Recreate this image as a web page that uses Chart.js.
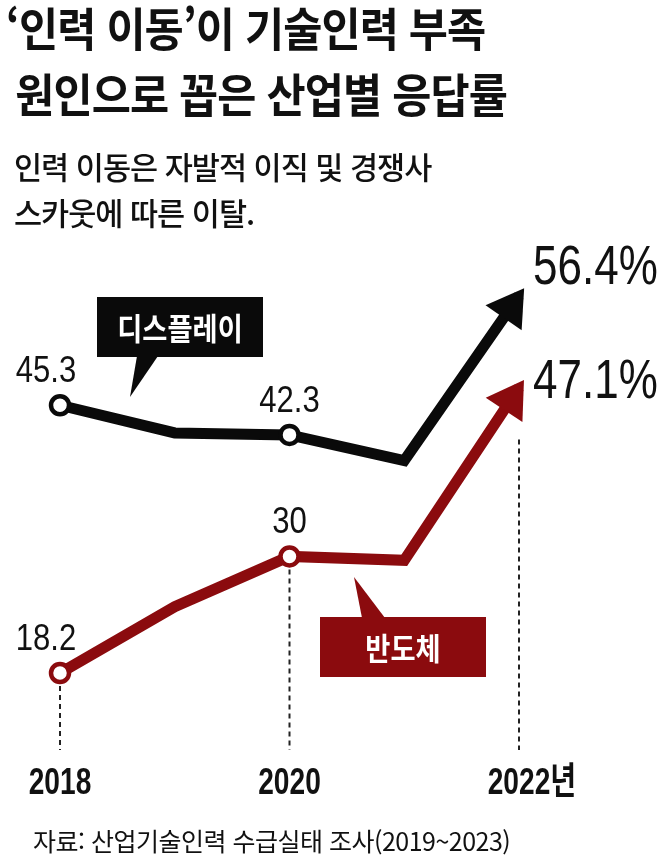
<!DOCTYPE html>
<html lang="ko">
<head>
<meta charset="utf-8">
<script src="https://cdn.jsdelivr.net/npm/chart.js@4.4.0/dist/chart.umd.min.js"></script>
<style>
  html, body { margin: 0; padding: 0; background: #fff; }
  body { width: 658px; height: 861px; position: relative; overflow: hidden; }
  #chart { position: absolute; left: 0; top: 0; }
  .txt { position: absolute; white-space: nowrap; font-family: "Noto Sans CJK KR", sans-serif; color: #111; transform-origin: left top; }
  #title { left: 6px; top: -7px; font-size: 46px; line-height: 66px; font-weight: 700; transform: scaleX(0.925); letter-spacing: -1px; }
  #title .l2 { padding-left: 10px; }
  #sub { left: 14px; top: 143px; font-size: 31px; line-height: 46px; font-weight: 500; transform: scaleX(0.985); letter-spacing: -1px; }
  #src { left: 33px; top: 824px; font-size: 25px; line-height: 32px; font-weight: 400; letter-spacing: -0.5px; }
</style>
</head>
<body>
<canvas id="chart" width="658" height="861"></canvas>
<div id="title" class="txt">‘인력 이동’이 기술인력 부족<br><span class="l2">원인으로 꼽은 산업별 응답률</span></div>
<div id="sub" class="txt">인력 이동은 자발적 이직 및 경쟁사<br>스카웃에 따른 이탈.</div>
<div id="src" class="txt">자료: 산업기술인력 수급실태 조사(2019~2023)</div>
<script>
// data
const years = ['2018', '2019', '2020', '2021', '2022'];
const tickLabels = ['2018', '', '2020', '', '2022년'];
const display = [45.3, 42.5, 42.3, 39.7, 56.4];
const semi = [18.2, 24.9, 30.0, 29.6, 47.1];
const seriesNames = ['디스플레이', '반도체'];
const labelIdx = [0, 2, 4];   // points that get a value label

const BLACK = '#0a0a0a';
const RED = '#8b0b0e';
const SANS = '"Liberation Sans", Arial, "Noto Sans CJK KR", sans-serif';
const KR = '"Noto Sans CJK KR", sans-serif';

const radius = years.map((y, i) => labelIdx.includes(i) && i < years.length - 1 ? 9 : 0);

// condensed text: draw with a horizontal squeeze
function squeezed(ctx, text, x, y, font, align, sx, baseline) {
  ctx.save();
  ctx.translate(x, y);
  ctx.scale(sx, 1);
  ctx.font = font;
  ctx.textAlign = align;
  ctx.textBaseline = baseline || 'alphabetic';
  ctx.fillText(text, 0, 0);
  ctx.restore();
}

function callout(ctx, box, tri, color, text) {
  ctx.save();
  ctx.fillStyle = color;
  ctx.fillRect(box[0], box[1], box[2], box[3]);
  ctx.beginPath();
  ctx.moveTo(tri[0][0], tri[0][1]);
  ctx.lineTo(tri[1][0], tri[1][1]);
  ctx.lineTo(tri[2][0], tri[2][1]);
  ctx.closePath();
  ctx.fill();
  ctx.fillStyle = '#fff';
  squeezed(ctx, text, box[0] + box[2] / 2, box[1] + box[3] / 2 + 1, '700 31px ' + KR, 'center', 0.88, 'middle');
  ctx.restore();
}

const decor = {
  id: 'decor',
  beforeDatasetsDraw(chart) {
    const ctx = chart.ctx;
    const x = chart.scales.x, y = chart.scales.y;
    const bottom = chart.chartArea.bottom - 4;
    ctx.save();
    ctx.strokeStyle = '#222';
    ctx.lineWidth = 2;
    ctx.setLineDash([5, 4]);
    labelIdx.forEach(i => {
      const px = x.getPixelForValue(i);
      const low = Math.min(display[i], semi[i]);
      const start = y.getPixelForValue(low) + (i === years.length - 1 ? 52 : 13);
      ctx.beginPath();
      ctx.moveTo(px, start);
      ctx.lineTo(px, bottom);
      ctx.stroke();
    });
    ctx.restore();
  },
  afterDatasetsDraw(chart) {
    const ctx = chart.ctx;
    const x = chart.scales.x;

    // arrow heads on the last segment of each line
    chart.data.datasets.forEach((ds, di) => {
      const pts = chart.getDatasetMeta(di).data;
      const p = pts[pts.length - 1], q = pts[pts.length - 2];
      let dx = p.x - q.x, dy = p.y - q.y;
      const len = Math.hypot(dx, dy);
      dx /= len; dy /= len;
      const tx = p.x + dx * 9, ty = p.y + dy * 9;
      const bx = tx - dx * 36, by = ty - dy * 36;
      const hw = 22;
      ctx.save();
      ctx.fillStyle = ds.borderColor;
      ctx.beginPath();
      ctx.moveTo(tx, ty);
      ctx.lineTo(bx - dy * hw, by + dx * hw);
      ctx.lineTo(bx + dy * hw, by - dx * hw);
      ctx.closePath();
      ctx.fill();
      ctx.restore();
    });

    // value labels
    ctx.save();
    ctx.fillStyle = '#111';
    chart.data.datasets.forEach((ds, di) => {
      const pts = chart.getDatasetMeta(di).data;
      labelIdx.forEach(i => {
        const p = pts[i];
        const v = ds.data[i];
        if (i === years.length - 1) {
          squeezed(ctx, v.toFixed(1) + '%', p.x + 14, p.y + (di === 0 ? -12 : 11), '400 55px ' + SANS, 'left', 0.8);
        } else {
          const txt = Number.isInteger(v) ? String(v) : v.toFixed(1);
          squeezed(ctx, txt, p.x + (i === 0 ? -14 : 0), p.y - 23, '400 37px ' + SANS, 'center', 0.84);
        }
      });
    });

    // x tick labels (digits centred on the tick)
    tickLabels.forEach((t, i) => {
      if (!t) return;
      const px = x.getPixelForValue(i);
      const digits = t.replace(/[^0-9]/g, '');
      const font = '700 37px ' + SANS;
      ctx.font = font;
      const w = ctx.measureText(digits).width * 0.76;
      squeezed(ctx, t, px - w / 2, chart.chartArea.bottom + 40, font, 'left', 0.76);
    });
    ctx.restore();

    // series callouts
    callout(ctx, [97, 297, 166, 60], [[137, 356], [158, 356], [130, 397]], BLACK, seriesNames[0]);
    callout(ctx, [320, 617, 166, 60], [[362, 618], [385, 618], [354, 577]], RED, seriesNames[1]);
  }
};

const lineStyle = {
  tension: 0,
  borderWidth: 11,
  borderJoinStyle: 'miter',
  borderCapStyle: 'butt',
  pointRadius: radius,
  pointHoverRadius: radius,
  pointBorderWidth: 4.5,
  pointBackgroundColor: '#fff'
};

new Chart(document.getElementById('chart'), {
  type: 'line',
  data: {
    labels: years,
    datasets: [
      Object.assign({ label: seriesNames[0], data: display, borderColor: BLACK, pointBorderColor: BLACK }, lineStyle),
      Object.assign({ label: seriesNames[1], data: semi, borderColor: RED, pointBorderColor: RED }, lineStyle)
    ]
  },
  options: {
    responsive: false,
    animation: false,
    devicePixelRatio: 1,
    layout: { padding: { left: 60, right: 139, top: 260, bottom: 107 } },
    plugins: { legend: { display: false }, tooltip: { enabled: false } },
    scales: {
      x: { display: false },
      y: { display: false, min: 10, max: 60 }
    }
  },
  plugins: [decor]
});
</script>
</body>
</html>
